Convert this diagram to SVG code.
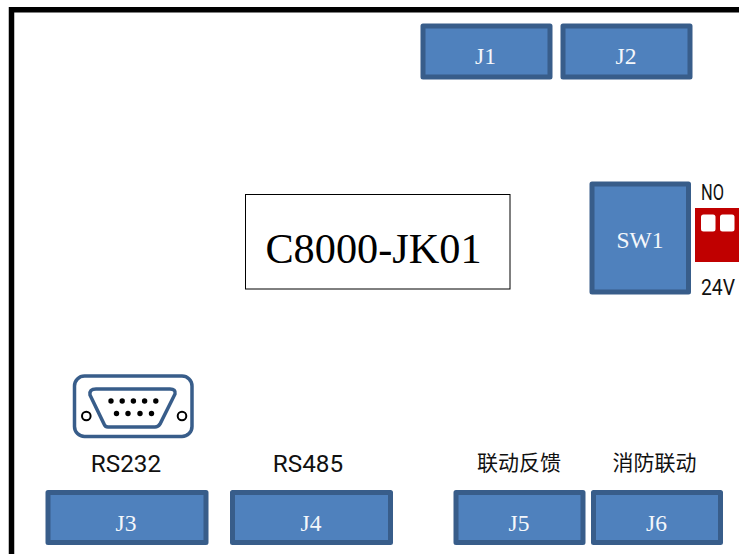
<svg xmlns="http://www.w3.org/2000/svg" width="739" height="554" viewBox="0 0 739 554">
<style>
.port{fill:#4f81bd;stroke:#385d8a;stroke-width:5;stroke-linejoin:round}
.pl{font-family:"Liberation Serif","Times New Roman",serif;font-size:23.500px;fill:#f4f7fb;text-anchor:middle}
.lb{font-family:Roboto,"Liberation Sans",sans-serif;font-size:24.300px;fill:#111;text-anchor:middle}
.cj{font-family:"Noto Sans CJK SC",sans-serif;font-size:21px;fill:#111;text-anchor:middle}
.ic{fill:none;stroke:#385d8a;stroke-width:3.500}
.sc{fill:#fff;stroke:#000;stroke-width:2}
.sw{font-family:Roboto,sans-serif;font-size:22.500px;fill:#111}
</style>
<rect width="739" height="554" fill="#fff"/>
<path id="frame" d="M11.500 554V9.800H739" fill="none" stroke="#000" stroke-width="5.500"/>
<g id="J1"><rect class="port" x="423" y="26" width="127" height="51"/><text class="pl" x="485.500" y="64">J1</text></g>
<g id="J2"><rect class="port" x="563" y="26" width="127" height="51"/><text class="pl" x="626" y="64">J2</text></g>
<g id="main"><rect x="245.500" y="194.500" width="264.500" height="94.500" fill="#fff" stroke="#000" stroke-width="1"/><text x="373.500" y="263" font-family="'Liberation Serif',serif" font-size="42.300" text-anchor="middle" fill="#000">C8000-JK01</text></g>
<g id="SW1"><rect class="port" x="592" y="184" width="96.500" height="108"/><text class="pl" x="640" y="248">SW1</text></g>
<g id="dip"><rect x="695" y="208" width="44" height="54" fill="#c00000"/><rect x="701" y="214.500" width="14.500" height="17" rx="2.500" fill="#fff"/><rect x="720" y="214.500" width="14.500" height="17" rx="2.500" fill="#fff"/>
<text class="sw" transform="translate(701 200) scale(.73 1)">NO</text>
<text class="sw" transform="translate(701 294.500) scale(.86 1)">24V</text></g>
<g id="db9"><rect class="ic" x="74.500" y="376" width="117.500" height="60.500" rx="10"/><path class="ic" d="M96 389H170Q176 389 175 394L160 424Q158 427 155 427H108Q105 427 104 424L90 395Q89 389 96 389Z"/>
<circle class="sc" cx="86.300" cy="416" r="4.300"/><circle class="sc" cx="182" cy="416" r="4.300"/>
<g fill="#000"><circle cx="111" cy="401" r="2.700"/><circle cx="122.200" cy="401" r="2.700"/><circle cx="133.400" cy="401" r="2.700"/><circle cx="144.600" cy="401" r="2.700"/><circle cx="155.800" cy="401" r="2.700"/><circle cx="116.500" cy="413.500" r="2.700"/><circle cx="128" cy="413.500" r="2.700"/><circle cx="140" cy="413.500" r="2.700"/><circle cx="151.500" cy="413.500" r="2.700"/></g></g>
<g id="RS232"><text class="lb" x="126" y="472">RS232</text></g>
<g id="RS485"><text class="lb" x="308" y="472">RS485</text></g>
<g id="L5"><text class="cj" x="519" y="470">联动反馈</text></g>
<g id="L6"><text class="cj" x="654.500" y="470">消防联动</text></g>
<g id="J3"><rect class="port" x="48" y="492.500" width="158" height="50"/><text class="pl" x="126" y="531">J3</text></g>
<g id="J4"><rect class="port" x="232.500" y="492.500" width="158" height="50"/><text class="pl" x="311" y="531">J4</text></g>
<g id="J5"><rect class="port" x="456" y="492.500" width="127" height="50"/><text class="pl" x="519" y="531">J5</text></g>
<g id="J6"><rect class="port" x="593.500" y="492.500" width="127" height="50"/><text class="pl" x="656.500" y="531">J6</text></g>
</svg>
